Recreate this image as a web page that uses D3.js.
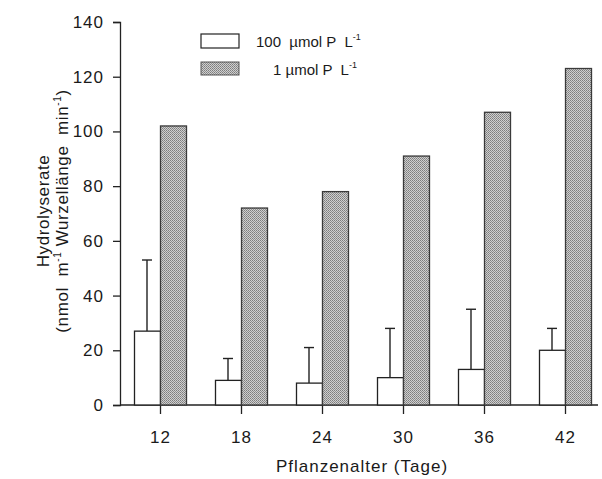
<!DOCTYPE html>
<html>
<head>
<meta charset="utf-8">
<script src="https://cdn.jsdelivr.net/npm/d3@7"></script>
<style>
  body { margin: 0; background: #fff; }
  text { font-family: "Liberation Sans", Arial, sans-serif; fill: #1a1a1a; white-space: pre; }
</style>
</head>
<body>
<div class="chart"></div>
<script>
// Data
var days = ["12", "18", "24", "30", "36", "42"];
var highP = [27, 9, 8, 10, 13, 20];        // 100 µmol P L-1
var highPErr = [53, 17, 21, 28, 35, 28];   // top of error bar
var lowP = [102, 72, 78, 91, 107, 123];    // 1 µmol P L-1
var yTicks = [0, 20, 40, 60, 80, 100, 120, 140];

var svgWidth = 602;
var svgHeight = 479;

var svg = d3.select(".chart")
  .append("svg")
  .attr("width", svgWidth)
  .attr("height", svgHeight);

// stippled gray fill
var defs = svg.append("defs");
var pat = defs.append("pattern")
  .attr("id", "stipple")
  .attr("width", 2)
  .attr("height", 2)
  .attr("patternUnits", "userSpaceOnUse");
pat.append("rect").attr("width", 2).attr("height", 2).attr("fill", "#cfcfcf");
pat.append("rect").attr("x", 0).attr("y", 0).attr("width", 1).attr("height", 1).attr("fill", "#7d7d7d");
pat.append("rect").attr("x", 1).attr("y", 1).attr("width", 1).attr("height", 1).attr("fill", "#8f8f8f");

var x = d3.scaleBand().domain(days).range([120, 606]).padding(0);
var y = d3.scaleLinear().domain([0, 140]).range([405, 22]);
var barW = 26;

var tickFont = function(sel) {
  sel.style("font-size", "17px").style("letter-spacing", "1px").attr("fill", "#1a1a1a");
};

// y axis
svg.append("g")
  .attr("transform", "translate(120,0)")
  .call(d3.axisLeft(y).tickValues(yTicks).tickSize(7).tickPadding(9))
  .call(function(g) {
    g.select(".domain").attr("stroke", "#222").attr("stroke-width", 1.3);
    g.selectAll(".tick line").attr("stroke", "#222").attr("stroke-width", 1.3);
    g.selectAll(".tick text").call(tickFont);
  });

// x axis
svg.append("g")
  .attr("transform", "translate(0,405)")
  .call(d3.axisBottom(x).tickSize(8).tickSizeOuter(0).tickPadding(18))
  .call(function(g) {
    g.select(".domain").attr("d", "M120,0H598").attr("stroke", "#222").attr("stroke-width", 1.3);
    g.selectAll(".tick line").attr("stroke", "#222").attr("stroke-width", 1.3)
      .attr("y1", -3).attr("y2", 9);
    g.selectAll(".tick text").call(tickFont);
  });

function center(d) { return x(d) + x.bandwidth() / 2; }

// error bars (upward only)
svg.selectAll(".err")
  .data(days)
  .enter().append("line")
  .attr("x1", function(d) { return center(d) - barW / 2 - 0.5; })
  .attr("x2", function(d) { return center(d) - barW / 2 - 0.5; })
  .attr("y1", function(d, i) { return y(highP[i]); })
  .attr("y2", function(d, i) { return y(highPErr[i]); })
  .attr("stroke", "#222").attr("stroke-width", 1.4);
svg.selectAll(".cap")
  .data(days)
  .enter().append("line")
  .attr("x1", function(d) { return center(d) - barW / 2 - 5.5; })
  .attr("x2", function(d) { return center(d) - barW / 2 + 4.5; })
  .attr("y1", function(d, i) { return y(highPErr[i]); })
  .attr("y2", function(d, i) { return y(highPErr[i]); })
  .attr("stroke", "#222").attr("stroke-width", 1.4);

// white bars
svg.selectAll(".white")
  .data(days)
  .enter().append("rect")
  .attr("x", function(d) { return center(d) - barW; })
  .attr("y", function(d, i) { return y(highP[i]); })
  .attr("width", barW)
  .attr("height", function(d, i) { return y(0) - y(highP[i]); })
  .attr("fill", "#fff")
  .attr("stroke", "#222").attr("stroke-width", 1.3);

// gray bars
svg.selectAll(".gray")
  .data(days)
  .enter().append("rect")
  .attr("x", function(d) { return center(d); })
  .attr("y", function(d, i) { return y(lowP[i]); })
  .attr("width", barW)
  .attr("height", function(d, i) { return y(0) - y(lowP[i]); })
  .attr("fill", "url(#stipple)")
  .attr("stroke", "#3a3a3a").attr("stroke-width", 1.3);

// legend
svg.append("rect").attr("x", 201).attr("y", 34).attr("width", 38).attr("height", 14)
  .attr("fill", "#fff").attr("stroke", "#222").attr("stroke-width", 1.2);
svg.append("rect").attr("x", 201).attr("y", 62).attr("width", 38).attr("height", 13)
  .attr("fill", "url(#stipple)").attr("stroke", "#555").attr("stroke-width", 1);

var l1 = svg.append("text").attr("x", 256).attr("y", 47).style("font-size", "15px");
l1.append("tspan").text("100  µmol P  L");
l1.append("tspan").attr("dy", -7).style("font-size", "9px").text("-1");
var l2 = svg.append("text").attr("x", 273).attr("y", 75).style("font-size", "15px");
l2.append("tspan").text("1 µmol P  L");
l2.append("tspan").attr("dy", -7).style("font-size", "9px").text("-1");

// y axis label
svg.append("text")
  .attr("transform", "translate(49,211) rotate(-90)")
  .attr("text-anchor", "middle")
  .style("font-size", "17px")
  .style("letter-spacing", "0.6px")
  .text("Hydrolyserate");
var yl = svg.append("text")
  .attr("transform", "translate(68,211) rotate(-90)")
  .attr("text-anchor", "middle")
  .style("font-size", "17px")
  .style("letter-spacing", "0.6px");
yl.append("tspan").text("(nmol  m");
yl.append("tspan").attr("dy", -7).style("font-size", "10px").text("-1");
yl.append("tspan").attr("dy", 7).text(" Wurzellänge  min");
yl.append("tspan").attr("dy", -7).style("font-size", "10px").text("-1");
yl.append("tspan").attr("dy", 7).text(")");

// x axis label
svg.append("text")
  .attr("x", 362)
  .attr("y", 472)
  .attr("text-anchor", "middle")
  .style("font-size", "17px")
  .style("letter-spacing", "1px")
  .text("Pflanzenalter (Tage)");
</script>
</body>
</html>
